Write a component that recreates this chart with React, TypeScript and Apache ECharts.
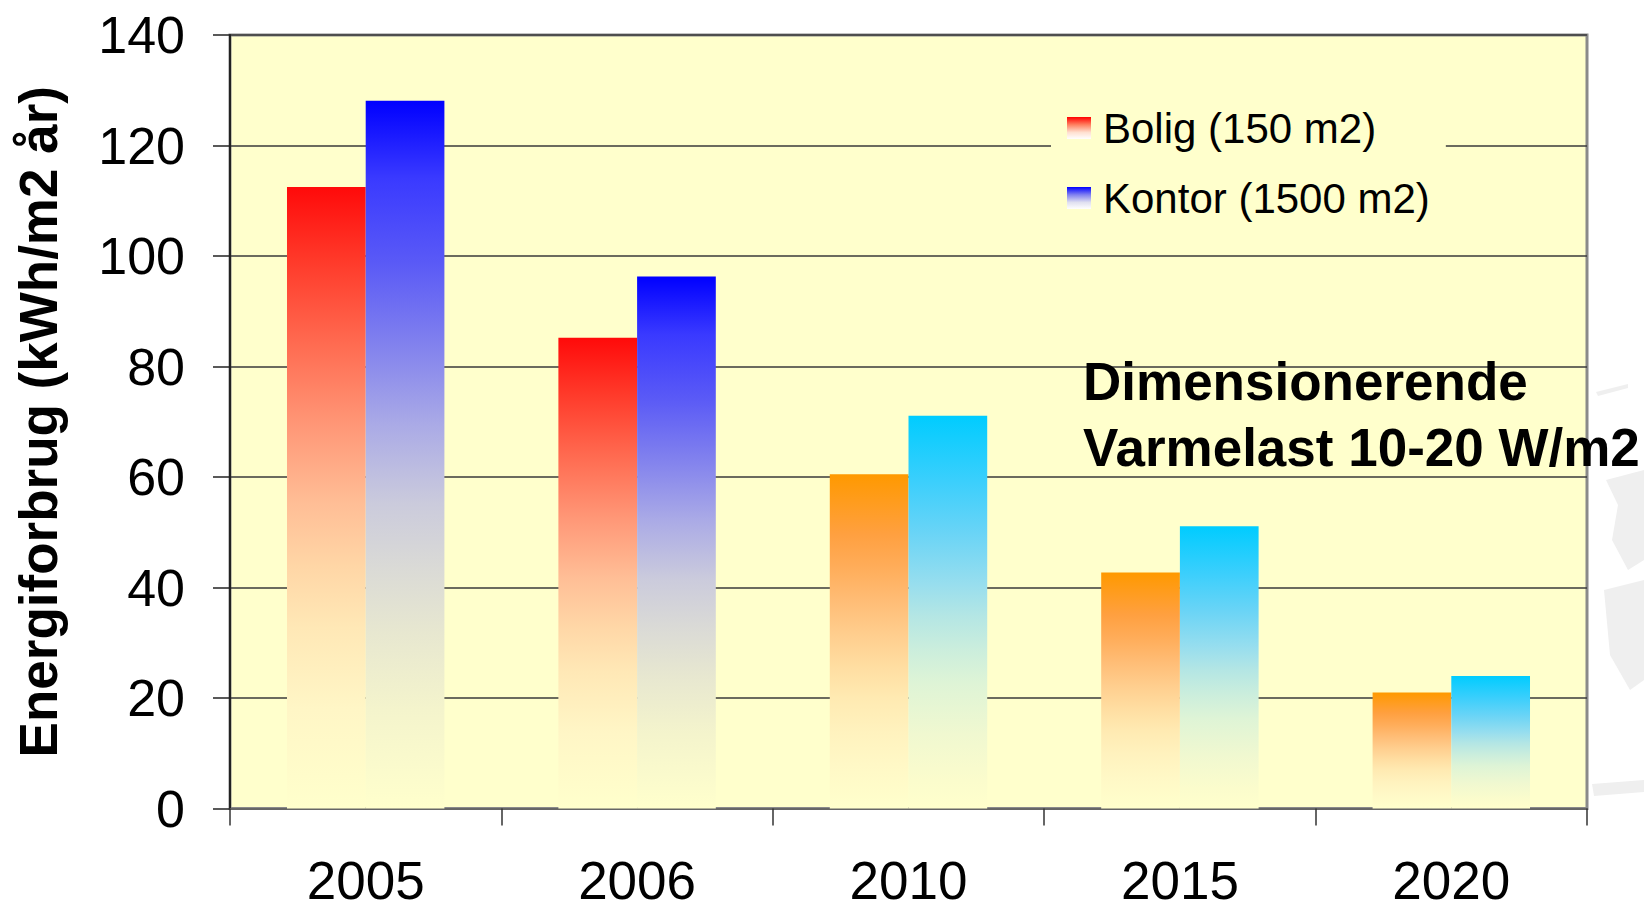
import React, { useEffect, useRef } from 'react';
import * as echarts from 'echarts';

const categories = ['2005', '2006', '2010', '2015', '2020'];
const earlyCategories = ['2005', '2006'];
const boligValues = [112.5, 85.2, 60.5, 42.7, 21.0];
const kontorValues = [128.1, 96.3, 71.1, 51.1, 24.0];
const seriesNames = ['Bolig (150 m2)', 'Kontor (1500 m2)'];
const yAxisTitle = 'Energiforbrug (kWh/m2 år)';
const noteText = 'Dimensionerende\nVarmelast 10-20 W/m2';
const yMin = 0;
const yMax = 140;
const yInterval = 20;

const FONT = '"Liberation Sans", Arial, Helvetica, sans-serif';

const RED: [number, string][] = [
  [0, '#FF0A0A'], [0.12, '#FF3A2A'], [0.25, '#FF6A50'], [0.38, '#FF9676'],
  [0.51, '#FFBE96'], [0.61, '#FFD6A6'], [0.71, '#FFE8B6'], [0.84, '#FFF6C6'], [1, '#FFFFCC'],
];
const BLUE: [number, string][] = [
  [0, '#0000FF'], [0.11, '#3A3AFF'], [0.23, '#5A5AF6'], [0.34, '#8080EE'],
  [0.46, '#ABABE6'], [0.57, '#CBCBDC'], [0.66, '#DADAD6'], [0.75, '#E7E7D0'], [0.86, '#F4F4CC'], [1, '#FFFFCC'],
];
const ORANGE: [number, string][] = [
  [0, '#FF9900'], [0.18, '#FFA040'], [0.28, '#FFAD5A'], [0.38, '#FFBD76'], [0.48, '#FFCE8E'],
  [0.58, '#FFDEA2'], [0.67, '#FFEAB2'], [0.77, '#FFF2BE'], [0.87, '#FFF8C6'], [1, '#FFFFCC'],
];
const CYAN: [number, string][] = [
  [0, '#00CCFF'], [0.17, '#3CCFFC'], [0.3, '#6AD4F6'], [0.43, '#98DEEE'], [0.51, '#B4E6E4'],
  [0.6, '#CCEEDC'], [0.68, '#DEF4D6'], [0.81, '#F0F8D0'], [0.93, '#FBFCCC'], [1, '#FFFFCC'],
];
const RED_ICON: [number, string][] = [[0, '#FF0000'], [0.35, '#FF8060'], [0.7, '#FFE0D0'], [1, '#FFFFFF']];
const BLUE_ICON: [number, string][] = [[0, '#0000FF'], [0.35, '#8080F0'], [0.7, '#E0E0F0'], [1, '#FFFFFF']];

function grad(stops: [number, string][]) {
  return new echarts.graphic.LinearGradient(
    0, 0, 0, 1,
    stops.map(([offset, color]) => ({ offset, color }))
  );
}

// faint grey decorative texture to the right of the plot (background remnant)
const texture: number[][][] = [
  [[1596, 392], [1628, 384], [1628, 388], [1598, 396]],
  [[1606, 480], [1644, 470], [1644, 560], [1628, 570], [1612, 540], [1618, 505]],
  [[1604, 590], [1644, 580], [1644, 680], [1630, 690], [1610, 655]],
  [[1592, 784], [1644, 780], [1644, 792], [1594, 796]],
];

export default function App() {
  const ref = useRef<HTMLDivElement>(null);

  useEffect(() => {
    if (!ref.current) return;
    const chart = echarts.init(ref.current, null, { renderer: 'svg' });
    const option: any = {
      animation: false,
      backgroundColor: '#FFFFFF',
      grid: {
        left: 230,
        top: 35,
        right: 57,
        bottom: 93,
        show: true,
        backgroundColor: '#FFFFCC',
        borderColor: '#8A8A8A',
        borderWidth: 3,
      },
      legend: {
        orient: 'vertical',
        left: 1051,
        top: 97,
        padding: [10, 16, 10, 16],
        backgroundColor: '#FFFFCC',
        itemWidth: 24,
        itemHeight: 22,
        itemGap: 28,
        icon: 'rect',
        data: [
          { name: seriesNames[0], itemStyle: { color: grad(RED_ICON) } },
          { name: seriesNames[1], itemStyle: { color: grad(BLUE_ICON) } },
        ],
        textStyle: {
          fontSize: 42,
          fontFamily: FONT,
          color: '#000',
          lineHeight: 40,
          padding: [0, 0, 0, 7],
        },
      },
      xAxis: {
        type: 'category',
        data: categories,
        axisLine: { show: true, lineStyle: { color: '#666', width: 2 } },
        axisTick: { show: true, length: 17, lineStyle: { color: '#333', width: 1.5 } },
        axisLabel: { fontSize: 53, fontFamily: FONT, color: '#000', margin: 52, lineHeight: 40 },
      },
      yAxis: {
        type: 'value',
        min: yMin,
        max: yMax,
        interval: yInterval,
        name: yAxisTitle,
        nameLocation: 'middle',
        nameGap: 165,
        nameTextStyle: { fontSize: 53, fontWeight: 'bold', fontFamily: FONT, color: '#000' },
        axisLine: { show: true, lineStyle: { color: '#222', width: 2 } },
        axisTick: { show: true, length: 17, lineStyle: { color: '#222', width: 1.5 } },
        axisLabel: { fontSize: 52, fontFamily: FONT, color: '#000', margin: 45 },
        splitLine: { show: true, lineStyle: { color: '#3A3A3A', width: 1.5 } },
      },
      series: [
        {
          name: seriesNames[0],
          type: 'bar',
          barWidth: '29%',
          barGap: '0%',
          itemStyle: { color: grad(RED) },
          data: boligValues.map((v, i) => ({
            value: v,
            itemStyle: { color: grad(earlyCategories.includes(categories[i]) ? RED : ORANGE) },
          })),
        },
        {
          name: seriesNames[1],
          type: 'bar',
          barWidth: '29%',
          barGap: '0%',
          itemStyle: { color: grad(BLUE) },
          data: kontorValues.map((v, i) => ({
            value: v,
            itemStyle: { color: grad(earlyCategories.includes(categories[i]) ? BLUE : CYAN) },
          })),
        },
      ],
      graphic: [
        ...texture.map((pts) => ({
          type: 'polygon',
          z: -10,
          silent: true,
          shape: { points: pts },
          style: { fill: '#EFEFEF' },
        })),
        {
          type: 'text',
          left: 1083,
          top: 348,
          z: 10,
          style: {
            text: noteText,
            font: `bold 53px ${FONT}`,
            lineHeight: 66,
            fill: '#000',
          },
        },
      ],
    };
    chart.setOption(option);
    return () => chart.dispose();
  }, []);

  return (
    <div
      ref={ref}
      style={{ position: 'fixed', left: 0, top: 0, width: 1644, height: 907, background: '#fff' }}
    />
  );
}
